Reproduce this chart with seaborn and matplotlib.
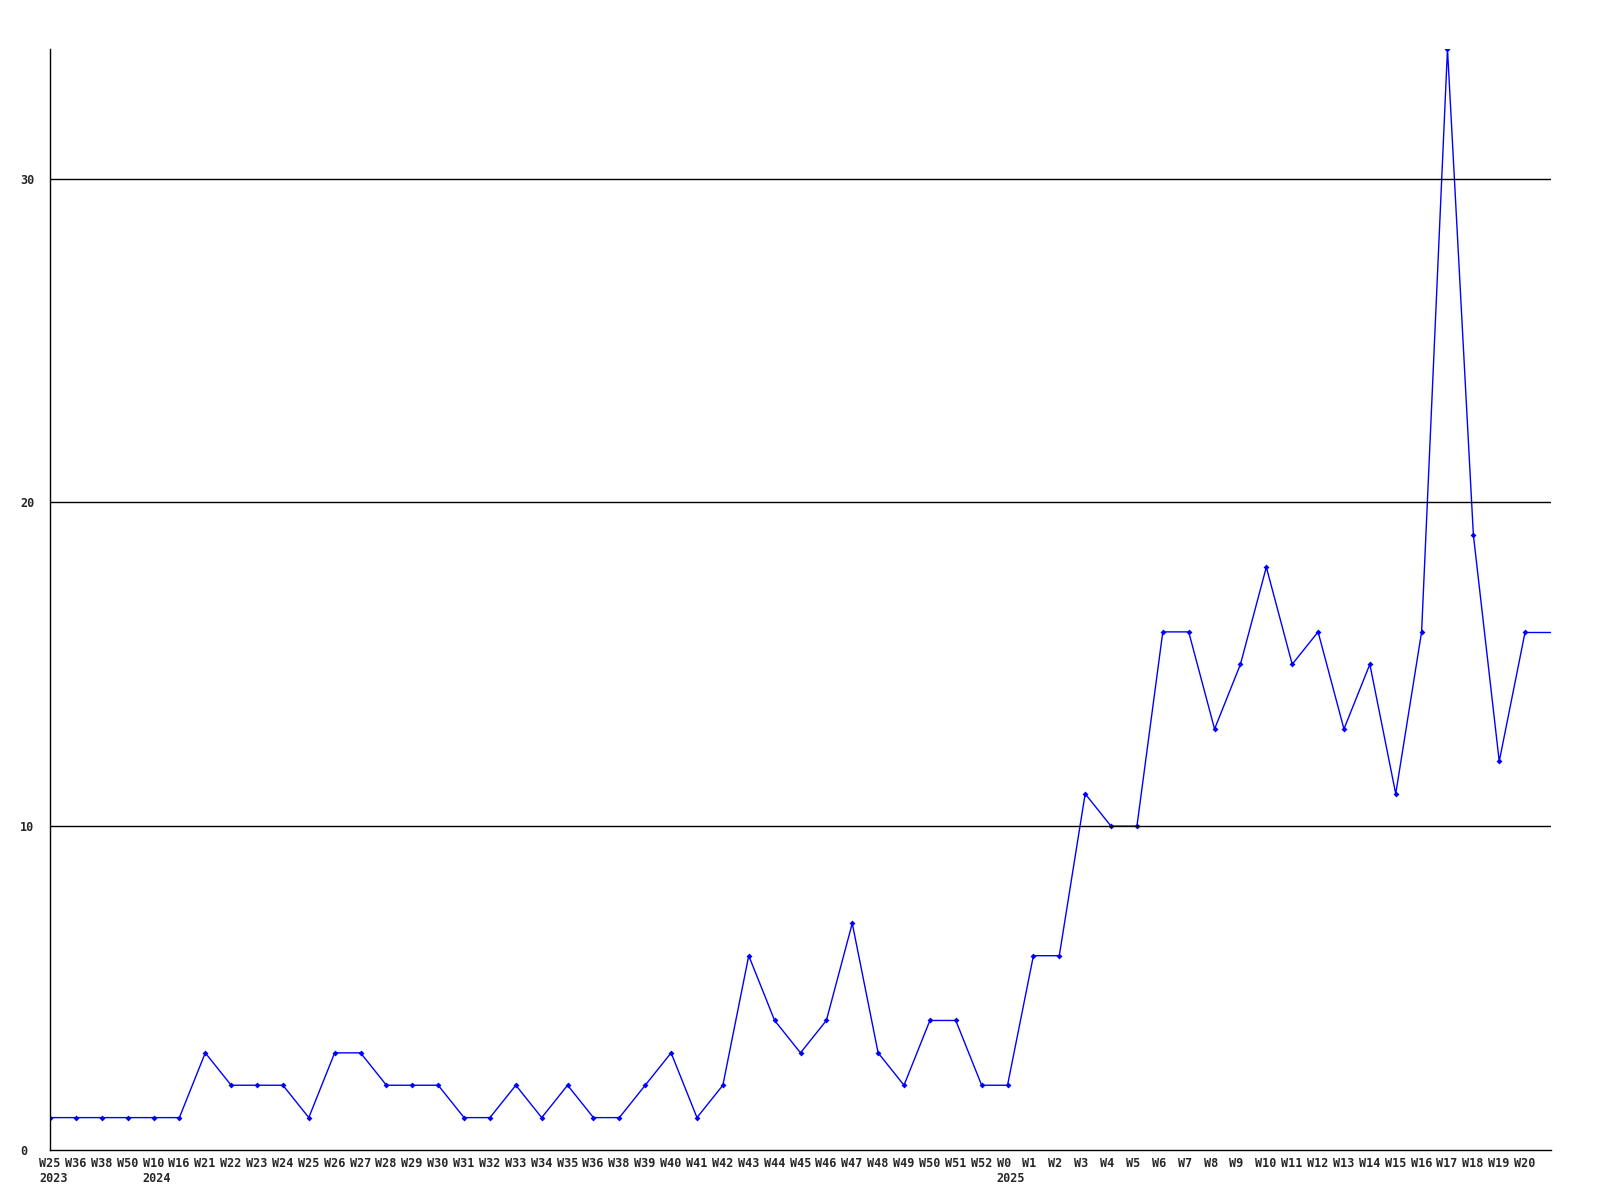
import matplotlib
matplotlib.use("Agg")
import matplotlib.pyplot as plt
import matplotlib.transforms as mtransforms
import seaborn as sns
import pandas as pd

weeks = ["W25", "W36", "W38", "W50",
         "W10", "W16", "W21", "W22", "W23", "W24", "W25", "W26", "W27", "W28",
         "W29", "W30", "W31", "W32", "W33", "W34", "W35", "W36", "W38", "W39",
         "W40", "W41", "W42", "W43", "W44", "W45", "W46", "W47", "W48", "W49",
         "W50", "W51", "W52",
         "W0", "W1", "W2", "W3", "W4", "W5", "W6", "W7", "W8", "W9", "W10",
         "W11", "W12", "W13", "W14", "W15", "W16", "W17", "W18", "W19", "W20"]
years = {0: "2023", 4: "2024", 37: "2025"}
counts = [1, 1, 1, 1,
          1, 1, 3, 2, 2, 2, 1, 3, 3, 2,
          2, 2, 1, 1, 2, 1, 2, 1, 1, 2,
          3, 1, 2, 6, 4, 3, 4, 7, 3, 2,
          4, 4, 2,
          2, 6, 6, 11, 10, 10, 16, 16, 13, 15, 18,
          15, 16, 13, 15, 11, 16, 34, 19, 12, 16]

df = pd.DataFrame({"idx": range(len(counts)), "count": counts})

sns.set_style("white")
plt.rcParams['font.family'] = ['DejaVu Sans Mono', 'DejaVu Sans']
plt.rcParams['font.weight'] = 'bold'

fig = plt.figure(figsize=(16, 12), dpi=100)
ax = fig.add_axes([50 / 1600, 1 - 1150 / 1200, 1501 / 1600, 1101 / 1200])

sns.lineplot(data=df, x="idx", y="count", ax=ax, color="#0000ff", linewidth=1.0,
             marker="D", markersize=3, markeredgewidth=0)
# line carries on flat to the right edge
n = len(counts)
ax.plot([n - 1, n], [counts[-1], counts[-1]], color="#0000ff", linewidth=1.0)

ax.set_yticks([0, 10, 20, 30])
ax.set_yticklabels(["0", "10", "20", "30"], fontsize=8.5, fontweight="bold")
for y in [10, 20, 30]:
    ax.axhline(y, color="black", linewidth=1)

ax.set_xticks(range(len(weeks)))
labels = [w + ("\n" + years[i] if i in years else "") for i, w in enumerate(weeks)]
ax.set_xticklabels(labels, fontsize=8.5, fontweight="bold", ha="left",
                   linespacing=1.25)
ax.tick_params(axis="x", length=0, pad=5)
ax.tick_params(axis="y", length=0, pad=30 * 72 / 100)

# labels start about 11 px left of each point (after tick_params, which resets transforms)
shift = mtransforms.ScaledTranslation(-11 / 100, 0, fig.dpi_scale_trans)
for lab in ax.get_xticklabels():
    lab.set_transform(lab.get_transform() + shift)
for lab in ax.get_yticklabels():
    lab.set_ha("left")

ax.set_xlim(0, n)
ax.set_ylim(0, max(counts))

ax.set_xlabel("")
ax.set_ylabel("")
for s in ["top", "right"]:
    ax.spines[s].set_visible(False)
for s in ["left", "bottom"]:
    ax.spines[s].set_color("black")
    ax.spines[s].set_linewidth(1)

fig.savefig("out.png", dpi=100)
